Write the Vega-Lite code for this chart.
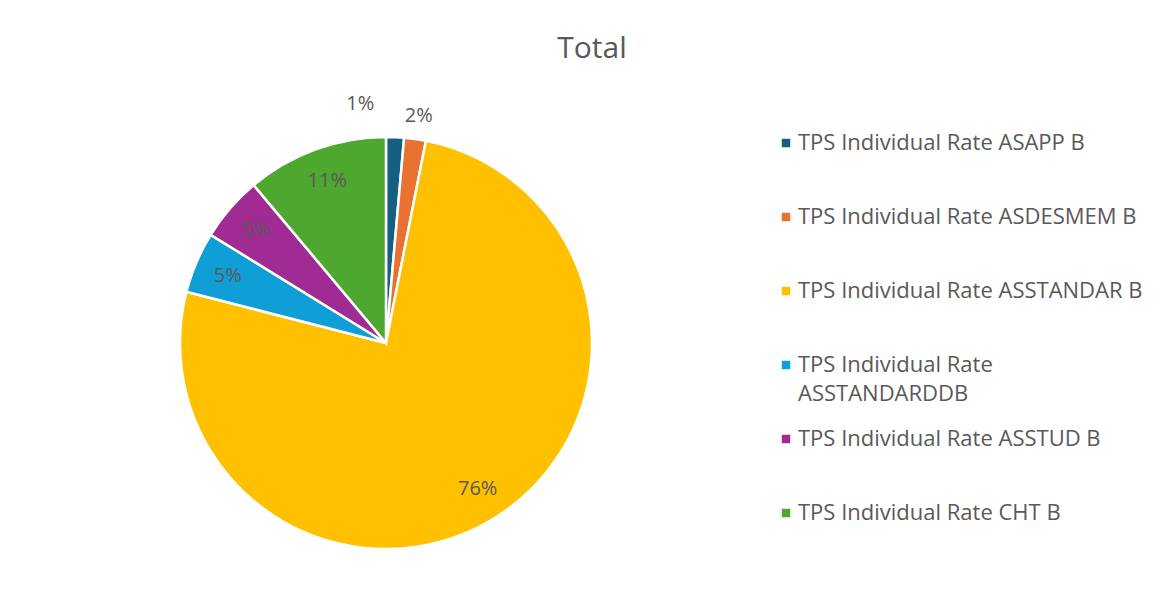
{
  "$schema": "https://vega.github.io/schema/vega-lite/v6.json",
  "autosize": "none",
  "width": 412,
  "height": 412,
  "padding": {"left": 180, "top": 137, "right": 576, "bottom": 65},
  "background": "white",
  "title": {
    "text": "Total",
    "fontSize": 30,
    "font": "Open Sans",
    "fontWeight": "normal",
    "color": "#595959",
    "anchor": "middle",
    "frame": "group",
    "dx": 206,
    "offset": 30
  },
  "data": {
    "values": [
      {"category": "TPS Individual Rate ASAPP B", "share": 0.014},
      {"category": "TPS Individual Rate ASDESMEM B", "share": 0.017},
      {"category": "TPS Individual Rate ASSTANDAR B", "share": 0.759},
      {"category": "TPS Individual Rate ASSTANDARDDB", "share": 0.048},
      {"category": "TPS Individual Rate ASSTUD B", "share": 0.051},
      {"category": "TPS Individual Rate CHT B", "share": 0.111}
    ]
  },
  "encoding": {
    "theta": {"field": "share", "type": "quantitative", "stack": true},
    "order": {"field": "category", "sort": "ascending"},
    "color": {
      "field": "category",
      "type": "nominal",
      "scale": {
        "domain": [
          "TPS Individual Rate ASAPP B",
          "TPS Individual Rate ASDESMEM B",
          "TPS Individual Rate ASSTANDAR B",
          "TPS Individual Rate ASSTANDARDDB",
          "TPS Individual Rate ASSTUD B",
          "TPS Individual Rate CHT B"
        ],
        "range": ["#156082", "#E97132", "#FFC000", "#0F9ED5", "#A02B93", "#4EA72E"]
      },
      "legend": {
        "title": null,
        "orient": "none",
        "legendX": 595,
        "legendY": -5,
        "gridAlign": "all",
        "symbolType": "square",
        "symbolSize": 72,
        "symbolStrokeWidth": 0,
        "labelFont": "Open Sans",
        "labelFontSize": 22,
        "labelColor": "#595959",
        "labelOffset": 1,
        "labelLimit": 400,
        "rowPadding": 23,
        "labelExpr": "datum.label == 'TPS Individual Rate ASSTANDARDDB' ? ['TPS Individual Rate', 'ASSTANDARDDB'] : datum.label"
      }
    }
  },
  "layer": [
    {
      "mark": {"type": "arc", "outerRadius": 206, "stroke": "white", "strokeWidth": 2.5}
    },
    {
      "mark": {"type": "text", "radius": 172, "font": "Open Sans", "fontSize": 20, "fill": "#595959"},
      "encoding": {
        "text": {"condition": {"test": "datum.share > 0.03", "field": "share", "type": "quantitative", "format": ".0%"}, "value": ""},
        "color": {"value": "#595959"},
        "detail": {"field": "category", "type": "nominal"}
      }
    },
    {
      "mark": {"type": "text", "radius": 233, "font": "Open Sans", "fontSize": 20, "fill": "#595959", "dx": {"expr": "datum.share < 0.015 ? -36 : 0"}, "dy": {"expr": "datum.share < 0.015 ? -6 : 4"}},
      "encoding": {
        "text": {"condition": {"test": "datum.share <= 0.03", "field": "share", "type": "quantitative", "format": ".0%"}, "value": ""},
        "color": {"value": "#595959"},
        "detail": {"field": "category", "type": "nominal"}
      }
    }
  ],
  "config": {
    "style": {"guide-label": {"lineHeight": 29}}
  }
}
